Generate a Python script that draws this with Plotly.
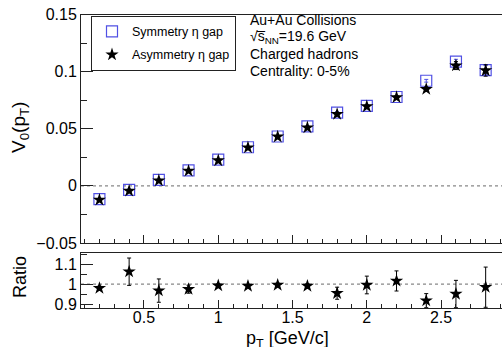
import plotly.graph_objects as go

W, H = 502, 347

pt = [0.2, 0.4, 0.6, 0.8, 1.0, 1.2, 1.4, 1.6, 1.8, 2.0, 2.2, 2.4, 2.6, 2.8]
v0_sym = [-0.0116, -0.0035, 0.0053, 0.0135, 0.0230, 0.0338, 0.0432, 0.0520,
          0.0642, 0.0700, 0.0778, 0.0920, 0.1088, 0.1013]
v0_sym_err = [0.0008, 0.0008, 0.0008, 0.0008, 0.0008, 0.0008, 0.0008, 0.0008,
              0.0008, 0.0010, 0.0010, 0.0012, 0.0020, 0.0040]
v0_asym = [-0.0123, -0.0044, 0.0046, 0.0131, 0.0222, 0.0335, 0.0430, 0.0510,
           0.0628, 0.0695, 0.0775, 0.0847, 0.1053, 0.1010]
v0_asym_err = [0.0008, 0.0008, 0.0008, 0.0008, 0.0008, 0.0008, 0.0008, 0.0008,
               0.0010, 0.0012, 0.0015, 0.0020, 0.0035, 0.0050]
ratio = [0.980, 1.062, 0.968, 0.975, 0.993, 0.991, 0.996, 0.991,
         0.955, 0.996, 1.016, 0.918, 0.951, 0.985]
ratio_err = [0.010, 0.068, 0.058, 0.020, 0.010, 0.008, 0.010, 0.012,
             0.030, 0.044, 0.050, 0.035, 0.068, 0.100]

info_lines = ["Au+Au Collisions",
              "√s\u0305<sub>NN</sub>=19.6 GeV",
              "Charged hadrons",
              "Centrality: 0-5%"]

FONT = "Liberation Sans, Arial, Helvetica, sans-serif"
BLUE = "rgb(80,80,228)"

def px_x(p):
    return p / W

def px_y(p):
    return 1 - p / H

fig = go.Figure()

fig.add_trace(go.Scatter(
    x=pt, y=v0_sym, mode="markers", name="Symmetry η gap",
    marker=dict(symbol="square-open", size=11, color=BLUE, line=dict(width=1.2, color=BLUE)),
    error_y=dict(type="data", array=v0_sym_err, color=BLUE, thickness=1, width=2),
    xaxis="x", yaxis="y", legendgroup="a"))
fig.add_trace(go.Scatter(
    x=pt, y=v0_asym, mode="markers", name="Asymmetry η gap",
    marker=dict(symbol="star", size=10, color="black", line=dict(width=0)),
    error_y=dict(type="data", array=v0_asym_err, color="black", thickness=1, width=2),
    xaxis="x", yaxis="y", legendgroup="b"))
fig.add_trace(go.Scatter(
    x=pt, y=ratio, mode="markers", showlegend=False,
    marker=dict(symbol="star", size=10, color="black", line=dict(width=0)),
    error_y=dict(type="data", array=ratio_err, color="black", thickness=1, width=2),
    xaxis="x2", yaxis="y2"))

xl = 81
top_t, top_b = 14.5, 243
bot_t, bot_b = 253, 308.3
xrange = [0.076, 2.91]

axis_common = dict(showline=True, linecolor="#222", linewidth=1, ticks="inside",
                   tickcolor="#222", showgrid=False, zeroline=False, automargin=False,
                   tickfont=dict(family=FONT, size=16, color="black"))

fig.update_layout(
    width=W, height=H,
    margin=dict(l=0, r=0, t=0, b=0, pad=0),
    paper_bgcolor="white", plot_bgcolor="white",
    font=dict(family=FONT, color="black"),
    xaxis=dict(domain=[px_x(xl), 1], range=xrange, anchor="y", mirror=True,
               dtick=0.5, tick0=0, ticklen=8, showticklabels=False,
               minor=dict(dtick=0.1, ticklen=4, ticks="inside", tickcolor="#222"),
               **axis_common),
    yaxis=dict(domain=[px_y(top_b), px_y(top_t)], range=[-0.05, 0.15], anchor="x",
               dtick=0.05, tick0=0, ticklen=12,
               minor=dict(dtick=0.025, ticklen=6, ticks="inside", tickcolor="#222"),
               **axis_common),
    xaxis2=dict(domain=[px_x(xl), 1], range=xrange, anchor="y2", mirror=True,
                matches="x", dtick=0.5, tick0=0, ticklen=8, ticklabelstandoff=-6,
                minor=dict(dtick=0.1, ticklen=4, ticks="inside", tickcolor="#222"),
                **axis_common),
    yaxis2=dict(domain=[px_y(bot_b), px_y(bot_t)], range=[0.88, 1.155], anchor="x2",
                dtick=0.1, tick0=0, ticklen=12,
                minor=dict(dtick=0.05, ticklen=6, ticks="inside", tickcolor="#222"),
                **axis_common),
    legend=dict(x=px_x(91), y=px_y(15.7), xanchor="left", yanchor="top",
                bordercolor="#222", borderwidth=1, bgcolor="white",
                font=dict(family=FONT, size=12.5, color="black"),
                tracegroupgap=4, traceorder="grouped", itemwidth=30),
    showlegend=True,
)

fig.add_shape(type="line", xref="x domain", yref="y", x0=0, x1=1, y0=0, y1=0,
              line=dict(color="#888", width=1.3, dash="dot"), layer="below")
fig.add_shape(type="line", xref="x2 domain", yref="y2", x0=0, x1=1, y0=1, y1=1,
              line=dict(color="#888", width=1.3, dash="dot"), layer="below")

annos = []
for i, t in enumerate(info_lines):
    annos.append(dict(text=t, xref="paper", yref="paper", x=px_x(248), y=px_y(20 + 17 * i),
                      xanchor="left", yanchor="middle", showarrow=False,
                      font=dict(family=FONT, size=14, color="black")))
annos.append(dict(text="V<sub>0</sub>(p<sub>T</sub>)", xref="paper", yref="paper",
                  x=px_x(20), y=px_y(128), textangle=-90, showarrow=False,
                  xanchor="center", yanchor="middle",
                  font=dict(family=FONT, size=19, color="black")))
annos.append(dict(text="Ratio", xref="paper", yref="paper",
                  x=px_x(20), y=px_y(277), textangle=-90, showarrow=False,
                  xanchor="center", yanchor="middle",
                  font=dict(family=FONT, size=18, color="black")))
annos.append(dict(text="p<sub>T</sub> [GeV/c]", xref="paper", yref="paper",
                  x=px_x(287), y=px_y(339), showarrow=False,
                  xanchor="center", yanchor="middle",
                  font=dict(family=FONT, size=18, color="black")))
fig.update_layout(annotations=annos)

fig.write_html("out.html")
